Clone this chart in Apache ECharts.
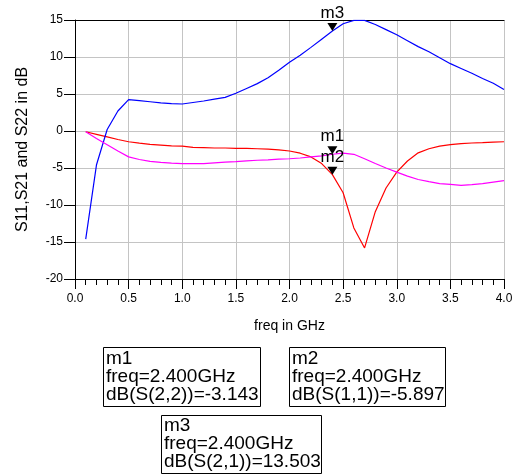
<!DOCTYPE html>
<html>
<head>
<meta charset="utf-8">
<script src="https://cdn.jsdelivr.net/npm/echarts@6/dist/echarts.min.js"></script>
<style>
html,body{margin:0;padding:0;background:#fff;}
#chart{width:518px;height:474px;}
</style>
</head>
<body>
<div id="chart"></div>
<script>
// ---- data ----
const freq = [0.1,0.2,0.3,0.4,0.5,0.6,0.7,0.8,0.9,1.0,1.1,1.2,1.3,1.4,1.5,1.6,1.7,1.8,1.9,2.0,
              2.1,2.2,2.3,2.4,2.5,2.6,2.7,2.8,2.9,3.0,3.1,3.2,3.3,3.4,3.5,3.6,3.7,3.8,3.9,4.0];
const s21 = [-14.6,-4.6,0.2,2.7,4.25,4.1,3.95,3.8,3.7,3.65,3.85,4.05,4.3,4.55,5.1,5.75,6.4,7.2,8.2,9.3,
             10.25,11.3,12.4,13.5,14.5,14.95,14.95,14.4,13.7,13.0,12.2,11.4,10.7,9.9,9.1,8.45,7.8,7.1,6.45,5.6];
const s11 = [-0.1,-0.45,-0.8,-1.15,-1.45,-1.65,-1.8,-1.9,-2.0,-2.05,-2.2,-2.25,-2.3,-2.3,-2.35,-2.35,-2.4,-2.45,-2.55,-2.7,
             -3.0,-3.5,-4.4,-5.9,-8.35,-13.1,-15.8,-10.9,-7.7,-5.55,-4.05,-2.95,-2.4,-2.05,-1.85,-1.7,-1.62,-1.57,-1.5,-1.45];
const s22 = [-0.1,-1.0,-1.85,-2.7,-3.5,-3.85,-4.1,-4.25,-4.35,-4.4,-4.4,-4.4,-4.3,-4.2,-4.15,-4.05,-3.95,-3.9,-3.8,-3.75,
             -3.65,-3.5,-3.35,-3.143,-3.0,-3.15,-3.75,-4.4,-5.0,-5.55,-6.1,-6.55,-6.85,-7.1,-7.22,-7.35,-7.25,-7.1,-6.9,-6.7];
const xTicks = ['0.0','0.5','1.0','1.5','2.0','2.5','3.0','3.5','4.0'];
const yTicks = [-20,-15,-10,-5,0,5,10,15];
// markers
const markerNames = ['m1','m2','m3'];
const markerFreq = [2.4, 2.4, 2.4];
const markerValues = [-3.143, -5.897, 13.503];
const markerExpr = ['dB(S(2,2))', 'dB(S(1,1))', 'dB(S(2,1))'];

const FONT = '"Liberation Sans", Arial, sans-serif';
const pairs = arr => freq.map((f, i) => [f, arr[i]]);

function marker(i) {
  return {
    symbol: 'triangle', symbolSize: [10, 8], symbolRotate: 180, symbolOffset: [0, -4],
    itemStyle: { color: '#000' },
    label: { show: true, position: 'top', distance: 1, formatter: markerNames[i],
             color: '#000', fontSize: 17, fontFamily: FONT },
    data: [{ name: markerNames[i], coord: [markerFreq[i], markerValues[i]] }]
  };
}

function boxText(i) {
  return markerNames[i] + '\nfreq=' + markerFreq[i].toFixed(3) + 'GHz\n' +
         markerExpr[i] + '=' + markerValues[i].toFixed(3);
}

const chart = echarts.init(document.getElementById('chart'), null, { renderer: 'canvas' });
chart.setOption({
  animation: false,
  backgroundColor: '#fff',
  grid: { left: 75, right: 14, top: 20, bottom: 195 },
  xAxis: [{
    type: 'value', min: 0, max: 4, interval: 0.5,
    name: 'freq in GHz', nameLocation: 'middle', nameGap: 40,
    nameTextStyle: { color: '#000', fontSize: 14, fontFamily: FONT },
    axisLine: { onZero: false, lineStyle: { color: '#000', width: 1 } },
    axisTick: { length: 10, lineStyle: { color: '#000' } },
    minorTick: { show: true, splitNumber: 5, length: 6, lineStyle: { color: '#000' } },
    axisLabel: { color: '#000', fontSize: 12, fontFamily: FONT, margin: 14,
                 formatter: v => xTicks[Math.round(v / 0.5)] },
    splitLine: { show: true, lineStyle: { color: '#c4c4c4', width: 1 } }
  }, {
    type: 'value', min: 0, max: 4, position: 'top',
    axisLine: { show: true, onZero: false, lineStyle: { color: '#000', width: 1 } },
    axisTick: { show: false }, axisLabel: { show: false }, splitLine: { show: false }
  }],
  yAxis: {
    type: 'value', min: yTicks[0], max: yTicks[yTicks.length - 1], interval: 5,
    name: 'S11,S21 and S22 in dB', nameLocation: 'middle', nameGap: 44,
    nameTextStyle: { color: '#000', fontSize: 16, fontFamily: FONT },
    axisLine: { show: true, onZero: false, lineStyle: { color: '#000', width: 1 } },
    axisTick: { show: true, length: 11, lineStyle: { color: '#000' } },
    axisLabel: { color: '#000', fontSize: 12, fontFamily: FONT, margin: 12 },
    splitLine: { show: true, lineStyle: { color: '#c4c4c4', width: 1 } }
  },
  series: [
    { name: 'S11', type: 'line', data: pairs(s11), showSymbol: false, symbol: 'none',
      lineStyle: { color: '#ff0000', width: 1.2 }, markPoint: marker(1), z: 3 },
    { name: 'S21', type: 'line', data: pairs(s21), showSymbol: false, symbol: 'none',
      lineStyle: { color: '#0000ff', width: 1.2 }, markPoint: marker(2), z: 3 },
    { name: 'S22', type: 'line', data: pairs(s22), showSymbol: false, symbol: 'none',
      lineStyle: { color: '#ff00ff', width: 1.2 }, markPoint: marker(0), z: 3 }
  ],
  graphic: [
    { type: 'rect', left: 103, top: 347, shape: { width: 157, height: 59 },
      style: { fill: '#fff', stroke: '#000', lineWidth: 1 } },
    { type: 'text', left: 106, top: 349,
      style: { text: boxText(0), font: '19px ' + FONT, lineHeight: 18, fill: '#000' } },
    { type: 'rect', left: 289, top: 347, shape: { width: 156, height: 59 },
      style: { fill: '#fff', stroke: '#000', lineWidth: 1 } },
    { type: 'text', left: 292, top: 349,
      style: { text: boxText(1), font: '19px ' + FONT, lineHeight: 18, fill: '#000' } },
    { type: 'rect', left: 161, top: 415, shape: { width: 160, height: 58 },
      style: { fill: '#fff', stroke: '#000', lineWidth: 1 } },
    { type: 'text', left: 164, top: 416,
      style: { text: boxText(2), font: '19px ' + FONT, lineHeight: 18, fill: '#000' } }
  ]
});
</script>
</body>
</html>
